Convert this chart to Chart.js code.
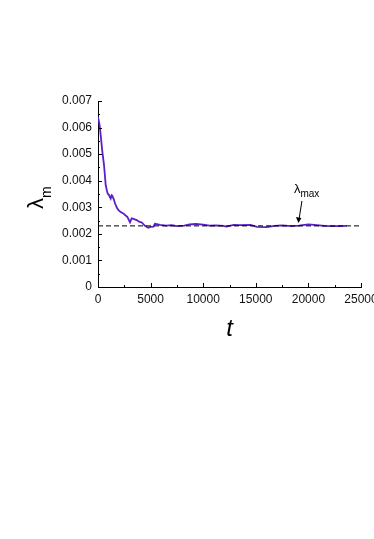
<!DOCTYPE html>
<html>
<head>
<meta charset="utf-8">
<script src="https://cdn.jsdelivr.net/npm/chart.js@4"></script>
<style>
html,body{margin:0;padding:0;background:#fff;overflow:hidden;}
#wrap{width:374px;height:539px;position:relative;}
</style>
</head>
<body>
<div id="wrap"><canvas id="c" width="374" height="539"></canvas></div>
<script>
// ---- data ----
const tValues = [0, 150, 285, 409, 570, 732, 850, 922, 1046, 1207, 1300, 1360, 1500, 1616, 1800, 1930, 2150, 2405, 2600, 2785, 3042, 3200, 3356, 3679, 3900, 4154, 4468, 4782, 5000, 5270, 5418, 5900, 6500, 7000, 7500, 8200, 8700, 9300, 10000, 10600, 11200, 11900, 12200, 12900, 13500, 14500, 15100, 16000, 16800, 17500, 18400, 19100, 20000, 20800, 21500, 22200, 23000, 23640];
const lambdaM = [0.0064, 0.0061, 0.0056, 0.0051, 0.0046, 0.00383, 0.00362, 0.00352, 0.00346, 0.00333, 0.00345, 0.00343, 0.0033, 0.00315, 0.00298, 0.0029, 0.00282, 0.00277, 0.0027, 0.00264, 0.00243, 0.00258, 0.00256, 0.00252, 0.00246, 0.00243, 0.0023, 0.00223, 0.00226, 0.00227, 0.00238, 0.00234, 0.00231, 0.00233, 0.00229, 0.00231, 0.00236, 0.00237, 0.00235, 0.00231, 0.00232, 0.00230, 0.00227, 0.00234, 0.00233, 0.00234, 0.00226, 0.00225, 0.00230, 0.00232, 0.00229, 0.00231, 0.00236, 0.00233, 0.00230, 0.00229, 0.00229, 0.00230];
const lambdaMax = 0.0023;
const refLineT = [0, 25000];
const xTicks = [0, 5000, 10000, 15000, 20000, 25000];
const yTicks = [0, 0.001, 0.002, 0.003, 0.004, 0.005, 0.006, 0.007];
const annotationT = 19100;

const FONT = '"Liberation Sans", Arial, sans-serif';

const inwardTicks = {
  id: 'inwardTicks',
  afterDraw(chart) {
    const ctx = chart.ctx, x = chart.scales.x, y = chart.scales.y;
    const a = chart.chartArea;
    ctx.save();
    ctx.strokeStyle = '#000';
    ctx.lineWidth = 1;
    ctx.beginPath();
    for (let v = 0; v <= 25000; v += 2500) {
      const px = Math.round(x.getPixelForValue(v)) + 0.5;
      const len = (v % 5000 === 0) ? 4 : 2;
      ctx.moveTo(px, a.bottom); ctx.lineTo(px, a.bottom - len);
    }
    for (let i = 0; i <= 14; i++) {
      const v = i * 0.0005;
      const py = Math.round(y.getPixelForValue(v)) + 0.5;
      const len = (i % 2 === 0) ? 4 : 2;
      ctx.moveTo(a.left, py); ctx.lineTo(a.left + len, py);
    }
    ctx.stroke();

    // axis titles
    ctx.fillStyle = '#000';
    ctx.textBaseline = 'alphabetic';
    ctx.font = 'italic 24px ' + FONT;
    ctx.textAlign = 'center';
    ctx.fillText('t', (a.left + a.right) / 2, 336);

    ctx.save();
    ctx.translate(43, 209);
    ctx.rotate(-Math.PI / 2);
    ctx.textAlign = 'left';
    ctx.font = '22px ' + FONT;
    ctx.fillText('λ', 0, 0);
    const w = ctx.measureText('λ').width;
    ctx.font = '14px ' + FONT;
    ctx.fillText('m', w, 8);
    ctx.restore();

    // annotation
    const ax = x.getPixelForValue(annotationT);
    const ay = y.getPixelForValue(lambdaMax);
    ctx.textAlign = 'left';
    ctx.font = '13px ' + FONT;
    ctx.fillText('λ', ax - 5, 193);
    const lw = ctx.measureText('λ').width;
    ctx.font = '10px ' + FONT;
    ctx.fillText('max', ax - 5 + lw, 197);
    ctx.beginPath();
    ctx.moveTo(ax + 3, 201);
    ctx.lineTo(ax, ay - 6);
    ctx.stroke();
    ctx.beginPath();
    ctx.moveTo(ax - 0.5, ay - 3);
    ctx.lineTo(ax - 3, ay - 9);
    ctx.lineTo(ax + 2.5, ay - 8);
    ctx.closePath();
    ctx.fill();
    ctx.restore();
  }
};

new Chart(document.getElementById('c'), {
  type: 'line',
  data: {
    datasets: [
      {
        data: refLineT.map(t => ({x: t, y: lambdaMax})),
        borderColor: '#000',
        borderWidth: 1,
        borderDash: [5, 3],
        pointRadius: 0,
        fill: false
      },
      {
        data: tValues.map((t, i) => ({x: t, y: lambdaM[i]})),
        borderColor: '#5a1fc8',
        borderWidth: 1.8,
        pointRadius: 0,
        tension: 0,
        fill: false
      }
    ]
  },
  options: {
    responsive: false,
    animation: false,
    events: [],
    layout: {padding: {top: 101, right: 13, left: 0, bottom: 0}},
    plugins: {legend: {display: false}, tooltip: {enabled: false}},
    scales: {
      x: {
        type: 'linear', min: 0, max: 25000,
        grid: {display: false, drawTicks: false, tickLength: 0},
        border: {display: true, color: '#000', width: 1},
        afterBuildTicks: s => { s.ticks = xTicks.map(v => ({value: v})); },
        ticks: {
          padding: 5, color: '#111', maxRotation: 0, autoSkip: false,
          font: {family: FONT, size: 12},
          callback: v => String(v)
        },
        afterFit: s => { s.height = 539 - 287; s.paddingRight = 0; s.paddingLeft = 0; }
      },
      y: {
        type: 'linear', min: 0, max: 0.007,
        grid: {display: false, drawTicks: false, tickLength: 0},
        border: {display: true, color: '#000', width: 1},
        afterBuildTicks: s => { s.ticks = yTicks.map(v => ({value: v})); },
        ticks: {
          padding: 6, color: '#111', autoSkip: false,
          font: {family: FONT, size: 12},
          callback: v => v === 0 ? '0' : v.toFixed(3)
        },
        afterFit: s => { s.width = 98; s.paddingTop = 0; s.paddingBottom = 0; }
      }
    }
  },
  plugins: [inwardTicks]
});
</script>
</body>
</html>
